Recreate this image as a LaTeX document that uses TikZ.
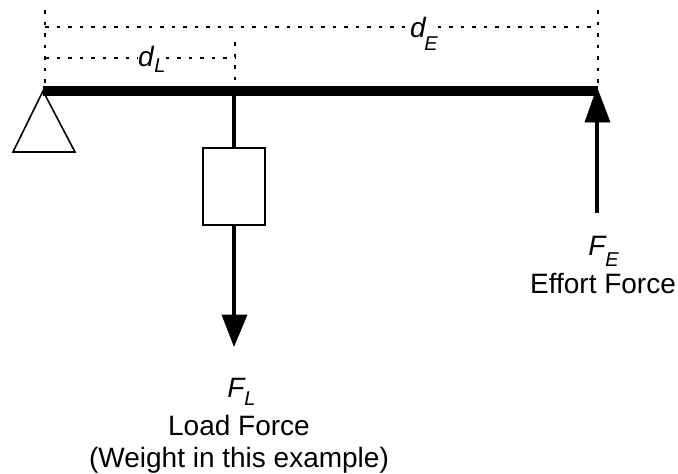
\documentclass[tikz,border=0pt]{standalone}
\usepackage{fontspec}
\setmainfont{Liberation Sans}
\begin{document}
\begin{tikzpicture}[x=1pt,y=-1pt,
  beam/.style={line width=9.5pt},
  rod/.style={line width=3.6pt},
  outline/.style={line width=1.6pt},
  head/.style={fill=black,draw=black,line width=0.6pt,line join=miter},
  dim/.style={line width=1.5pt,dash pattern=on 3.5pt off 8pt},
  lab/.style={inner sep=0pt,anchor=base,font=\fontsize{28}{28}\selectfont},
  sym/.style={inner sep=0pt,anchor=base,font=\fontsize{28}{28}\selectfont\itshape},
  sub/.style={inner sep=0pt,anchor=base,font=\fontsize{20}{20}\selectfont\itshape}]
\useasboundingbox (0,0) rectangle (678,474);
% named points
\coordinate (pivot) at (43,91);
\coordinate (loadpt) at (234,91);
\coordinate (effpt) at (598,91);
\coordinate (baseL) at (13,152);
\coordinate (baseR) at (75,152);
\coordinate (pivottop) at (45,10);
\coordinate (efftop) at (598,10);
\coordinate (loadtop) at (235,42);
\coordinate (topL) at (45,27);
\coordinate (topR) at (598,27);
\coordinate (midL) at (45,58);
\coordinate (midR) at (235,58);
\coordinate (tipL) at (234,346);
\coordinate (tipE) at (597,88);
\coordinate (tailE) at (597,213);
% text
\node[sym] (dl) at (146,66) {d};
\node[sub] (dls) at (160,72) {L};
\node[sym] (de) at (418,37) {d};
\node[sub] (des) at (431,50) {E};
\node[sym] (fe) at (597,255) {F};
\node[sub] (fes) at (612,266) {E};
\node[lab] (effort) at (603,293) {Effort Force};
\node[sym] (fl) at (236,397) {F};
\node[sub] (fls) at (250,405) {L};
\node[lab] (load) at (239,435) {Load Force};
\node[lab] (weight) at (239,467) {(Weight in this example)};
% box
\node[draw,outline,minimum width=62pt,minimum height=77pt,inner sep=0pt] (box) at (234,186.5) {};
% dimension lines
\draw[dim] (pivottop) -- (45,86);
\draw[dim] (efftop) -- (598,86);
\draw[dim] (loadtop) -- (235,84);
\draw[dim] (topL) -- (de.west |- topL);
\draw[dim] (des.east |- topR) -- (topR);
\draw[dim] (midL) -- (dl.west |- midL);
\draw[dim] (dls.east |- midR) -- (midR);
% support
\draw[outline,line join=miter] (pivot) -- (baseR) -- (baseL) -- cycle;
% beam and rods
\draw[beam] (pivot) -- (effpt);
\draw[rod] (loadpt) -- (box.north);
\draw[rod] (box.south) -- (234,318);
\draw[rod] (tailE) -- (597,120);
\fill[head] (tipL) -- (222,315) -- (247,315) -- cycle;
\fill[head] (tipE) -- (585,122) -- (610,122) -- cycle;
\end{tikzpicture}
\end{document}
